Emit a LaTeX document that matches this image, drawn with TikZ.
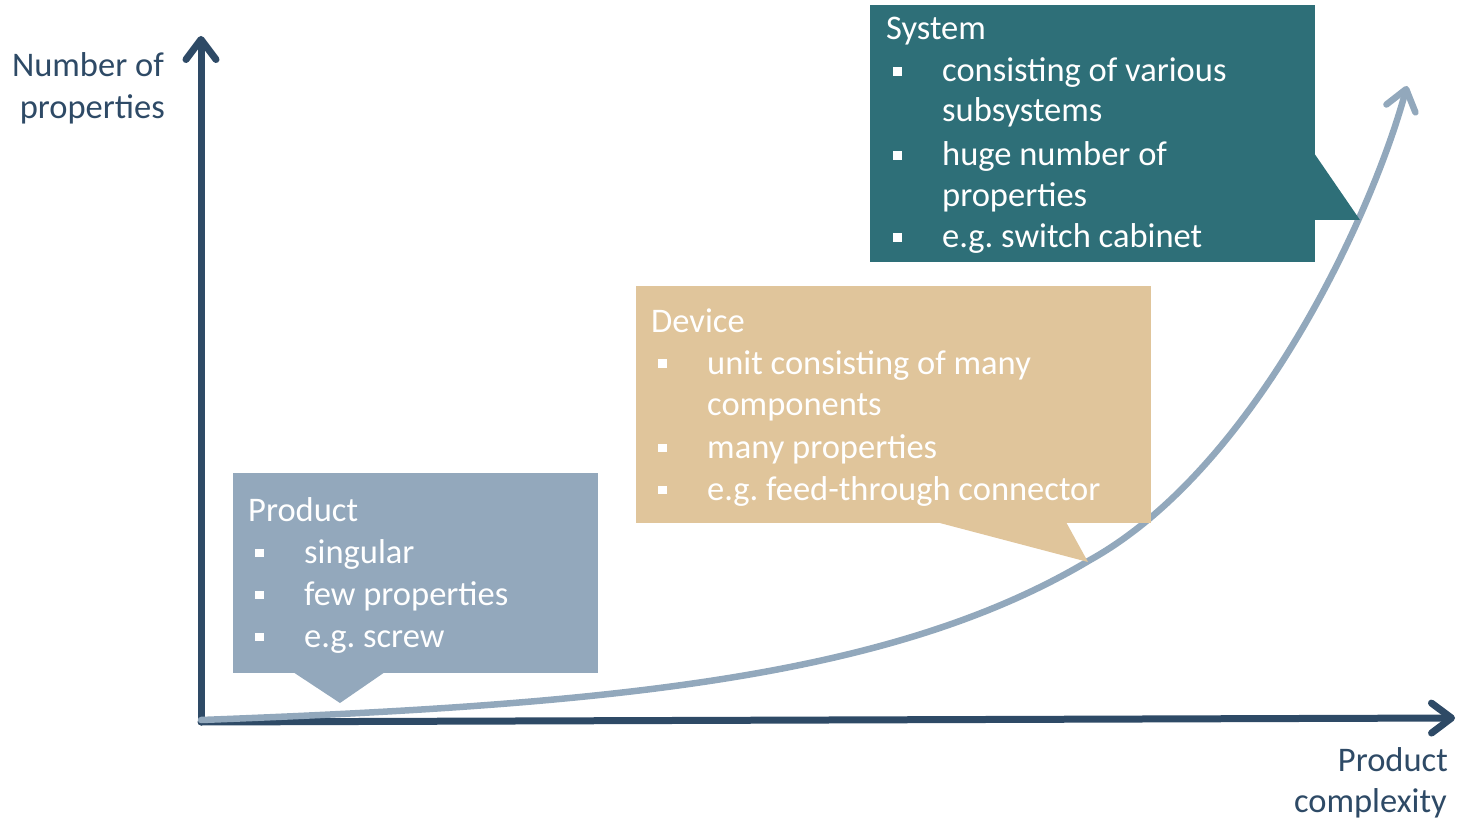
\documentclass[tikz,border=0pt]{standalone}
\usepackage{fontspec}
\setmainfont{Carlito}
\usetikzlibrary{arrows.meta}
\definecolor{axisc}{HTML}{2E4A66}
\definecolor{curvec}{HTML}{92A8BC}
\definecolor{prodc}{HTML}{93A8BC}
\definecolor{devc}{HTML}{E0C59B}
\definecolor{sysc}{HTML}{2E6F78}
\newcommand{\bul}{\makebox[49pt][l]{\rule[6pt]{8.5pt}{8.5pt}}}
\newcommand{\ind}{\hspace*{49pt}}
\frenchspacing
\begin{document}
\begin{tikzpicture}[x=1pt,y=-1pt,
  txt/.style={font=\fontsize{34.5}{42}\selectfont, text=white, inner sep=0pt, anchor=base west},
  lab/.style={font=\fontsize{34.5}{42}\selectfont, text=axisc, inner sep=0pt, anchor=base east},
  axisline/.style={draw=axisc, line width=7pt, line cap=round, -{Straight Barb[length=20pt,width=30pt,round]}},
  curveline/.style={draw=curvec, line width=6.5pt, line cap=round, -{Straight Barb[length=20pt,width=30pt,round]}},
  boxnode/.style={minimum width=#1, inner sep=0pt, anchor=north west},
]
\useasboundingbox (0,0) rectangle (1460,818);
% axes
\coordinate (O) at (201,722);
\coordinate (Ytop) at (201,36);
\coordinate (Xend) at (1455,718);
\draw[axisline] (O) -- (Ytop);
\draw[axisline] (O) -- (Xend);
% curve
\coordinate (C0) at (201,720);
\coordinate (C1) at (1090,560);
\coordinate (C2) at (1407,86);
\draw[curveline] (C0) .. controls (600,705) and (890,680) .. (C1)
  .. controls (1255,468) and (1372,215) .. (C2);
% axis labels
\node[lab] (ylab1) at (164,77) {Number of};
\node[lab] (ylab2) at (165,119) {properties};
\node[lab] (xlab1) at (1448,771) {Product};
\node[lab] (xlab2) at (1447,812) {complexity};
% Product box
\node[boxnode=365pt, minimum height=200pt, fill=prodc] (prod) at (233,473) {};
\fill[prodc] (293,672) -- (340,703) -- (385,672) -- cycle;
\node[txt] (p0) at (248,521) {Product};
\node[txt] (p1) at (255,563) {\bul singular};
\node[txt] (p2) at (255,605) {\bul few properties};
\node[txt] (p3) at (255,647) {\bul e.g. screw};
% Device box
\node[boxnode=515pt, minimum height=237pt, fill=devc] (dev) at (636,286) {};
\fill[devc] (936,522) -- (1088,562) -- (1066,522) -- cycle;
\node[txt] (d0) at (651,333) {Device};
\node[txt] (d1) at (658,374) {\bul unit consisting of many};
\node[txt] (d2) at (658,415) {\ind components};
\node[txt] (d3) at (658,458) {\bul many properties};
\node[txt] (d4) at (658,500) {\bul e.g. feed-through connector};
% System box
\node[boxnode=445pt, minimum height=257pt, fill=sysc] (sys) at (870,5) {};
\fill[sysc] (1314,153) -- (1360,220) -- (1314,220) -- cycle;
\node[txt] (s0) at (886,40) {System};
\node[txt] (s1) at (893,82) {\bul consisting of various};
\node[txt] (s2) at (893,122) {\ind subsystems};
\node[txt] (s3) at (893,166) {\bul huge number of};
\node[txt] (s4) at (893,207) {\ind properties};
\node[txt] (s5) at (893,248) {\bul e.g. switch cabinet};
\end{tikzpicture}
\end{document}
